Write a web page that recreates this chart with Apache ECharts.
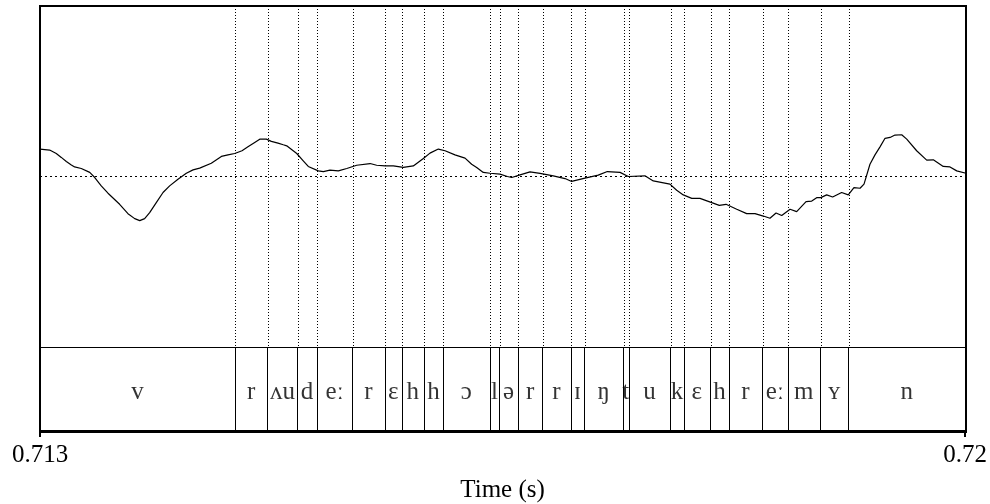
<!DOCTYPE html>
<html>
<head>
<meta charset="utf-8">
<script src="https://cdn.jsdelivr.net/npm/echarts@6/dist/echarts.min.js"></script>
<style>
  html, body { margin: 0; padding: 0; background: #fff; }
  #chart { width: 990px; height: 504px; }
</style>
</head>
<body>
<div id="chart"></div>
<script>
// Time range of the excerpt (s)
const tStart = 0.713;
const tEnd = 0.72;

// Waveform samples: time (s) and normalised amplitude
const waveTime = [
  0.713000, 0.713073, 0.713123, 0.713161, 0.713199, 0.713237, 0.713262, 0.713312, 0.713376, 0.713414,
  0.713463, 0.713514, 0.713602, 0.713665, 0.713716, 0.713754, 0.713791, 0.713829, 0.713879, 0.713930,
  0.713980, 0.714043, 0.714106, 0.714157, 0.714207, 0.714295, 0.714371, 0.714421, 0.714472, 0.714527,
  0.714572, 0.714623, 0.714661, 0.714711, 0.714749, 0.714799, 0.714839, 0.714865, 0.714941, 0.714990,
  0.715028, 0.715104, 0.715142, 0.715192, 0.715255, 0.715319, 0.715394, 0.715495, 0.715545, 0.715608,
  0.715671, 0.715746, 0.715822, 0.715898, 0.715948, 0.716011, 0.716062, 0.716137, 0.716213, 0.716263,
  0.716301, 0.716351, 0.716402, 0.716477, 0.716533, 0.716566, 0.716623, 0.716704, 0.716780, 0.716880,
  0.716969, 0.717019, 0.717120, 0.717220, 0.717289, 0.717385, 0.717447, 0.717573, 0.717636, 0.717762,
  0.717813, 0.717863, 0.717927, 0.717989, 0.718078, 0.718135, 0.718186, 0.718267, 0.718342, 0.718405,
  0.718468, 0.718518, 0.718564, 0.718607, 0.718670, 0.718720, 0.718791, 0.718834, 0.718871, 0.718902,
  0.718947, 0.718992, 0.719060, 0.719110, 0.719153, 0.719199, 0.719229, 0.719274, 0.719312, 0.719350,
  0.719388, 0.719426, 0.719463, 0.719514, 0.719552, 0.719627, 0.719703, 0.719753, 0.719828, 0.719879,
  0.719930, 0.720000
];
const waveAmp = [
  0.161, 0.155, 0.135, 0.112, 0.088, 0.068, 0.056, 0.047, 0.024, -0.006,
  -0.055, -0.098, -0.163, -0.218, -0.247, -0.259, -0.247, -0.212, -0.153, -0.094,
  -0.055, -0.016, 0.019, 0.039, 0.049, 0.078, 0.118, 0.127, 0.135, 0.151,
  0.174, 0.200, 0.219, 0.219, 0.206, 0.196, 0.186, 0.180, 0.135, 0.092,
  0.059, 0.033, 0.029, 0.037, 0.033, 0.047, 0.066, 0.076, 0.066, 0.062,
  0.062, 0.053, 0.062, 0.106, 0.137, 0.161, 0.151, 0.127, 0.108, 0.072,
  0.053, 0.024, 0.019, 0.014, 0.000, -0.006, 0.008, 0.027, 0.018, 0.004,
  -0.012, -0.029, -0.010, 0.008, 0.029, 0.024, 0.000, 0.004, -0.026, -0.045,
  -0.081, -0.108, -0.128, -0.128, -0.153, -0.169, -0.163, -0.192, -0.218, -0.218,
  -0.232, -0.245, -0.214, -0.229, -0.192, -0.206, -0.147, -0.144, -0.124, -0.124,
  -0.108, -0.120, -0.094, -0.108, -0.065, -0.069, -0.045, 0.072, 0.127, 0.174,
  0.224, 0.229, 0.243, 0.245, 0.219, 0.151, 0.096, 0.098, 0.059, 0.056,
  0.033, 0.019
];

// Segment boundaries (s) of the phone tier
const boundaries = [
  0.714474, 0.714721, 0.714948, 0.715094, 0.715364, 0.715607, 0.715737, 0.715905, 0.716050,
  0.716403, 0.716474, 0.716616, 0.716800, 0.717016, 0.717118, 0.717411, 0.717454, 0.717770,
  0.717870, 0.718070, 0.718212, 0.718463, 0.718657, 0.718902, 0.719116
];
// Phone labels, one per interval
const phones = [
  'v', 'r', 'ʌu', 'd', 'eː', 'r', 'ɛ', 'h', 'h', 'ɔ', 'l', 'ə', 'r',
  'r', 'ɪ', 'ŋ', 't', 'u', 'k', 'ɛ', 'h', 'r', 'eː', 'm', 'ʏ', 'n'
];

const serif = '"Liberation Serif", "Times New Roman", "DejaVu Serif", serif';

const edges = [tStart].concat(boundaries, [tEnd]);
const phoneData = phones.map((p, i) => ({
  name: p,
  value: [(edges[i] + edges[i + 1]) / 2, 0.465]
}));

// Vertical boundary line spanning the full height of its grid
function boundaryRenderer(dash) {
  return function (params, api) {
    const cs = params.coordSys;
    const x = Math.round(api.coord([api.value(0), api.value(1)])[0]) + 0.5;
    return {
      type: 'line',
      shape: { x1: x, y1: cs.y, x2: x, y2: cs.y + cs.height },
      style: { stroke: '#000', lineWidth: 1, lineDash: dash }
    };
  };
}

const chart = echarts.init(document.getElementById('chart'), null, { renderer: 'canvas' });

chart.setOption({
  animation: false,
  backgroundColor: '#fff',
  grid: [
    { left: 40, right: 24, top: 6, height: 341 },          // waveform
    { left: 40, right: 24, top: 347, height: 85 },         // phone tier
    { left: 40, right: 24, top: 6, height: 426,            // outer frame
      show: true, borderColor: '#000', borderWidth: 2, backgroundColor: 'transparent', z: 10 }
  ],
  xAxis: [
    {
      gridIndex: 0, type: 'value', min: tStart, max: tEnd, position: 'bottom',
      axisLine: { show: true, onZero: false, lineStyle: { color: '#000', width: 1 } },
      axisTick: { show: false }, axisLabel: { show: false }, splitLine: { show: false }
    },
    {
      gridIndex: 1, type: 'value', min: tStart, max: tEnd, position: 'bottom',
      axisLine: { show: true, onZero: false, lineStyle: { color: '#000', width: 2 } },
      axisTick: { show: true, customValues: [tStart, tEnd], length: 6, inside: false,
        lineStyle: { color: '#000', width: 2 } },
      axisLabel: { show: true, customValues: [tStart, tEnd], margin: 12,
        color: '#000', fontFamily: serif, fontSize: 25,
        formatter: v => String(+v.toFixed(4)) },
      splitLine: { show: false },
      name: 'Time (s)', nameLocation: 'middle', nameGap: 47,
      nameTextStyle: { color: '#000', fontFamily: serif, fontSize: 25 }
    },
    {
      gridIndex: 2, type: 'value', min: tStart, max: tEnd, show: false
    }
  ],
  yAxis: [
    { gridIndex: 0, type: 'value', min: -1, max: 1, show: false },
    { gridIndex: 1, type: 'value', min: 0, max: 1, show: false },
    { gridIndex: 2, type: 'value', min: 0, max: 1, show: false }
  ],
  series: [
    {
      type: 'line',
      xAxisIndex: 0, yAxisIndex: 0,
      data: waveTime.map((t, i) => [t, waveAmp[i]]),
      showSymbol: false,
      lineStyle: { color: '#000', width: 1.2 },
      silent: true,
      z: 3,
      markLine: {
        silent: true,
        symbol: 'none',
        label: { show: false },
        data: [
          { yAxis: 0, lineStyle: { color: '#000', width: 1, type: [2, 3] } }
        ]
      }
    },
    {
      // dotted boundaries across the waveform
      type: 'custom',
      xAxisIndex: 0, yAxisIndex: 0,
      data: boundaries.map(b => [b, 0]),
      renderItem: boundaryRenderer([1, 2]),
      silent: true,
      z: 2
    },
    {
      // solid boundaries inside the phone tier
      type: 'custom',
      xAxisIndex: 1, yAxisIndex: 1,
      data: boundaries.map(b => [b, 0]),
      renderItem: boundaryRenderer(null),
      silent: true,
      z: 2
    },
    {
      type: 'scatter',
      xAxisIndex: 1, yAxisIndex: 1,
      data: phoneData,
      symbolSize: 0,
      silent: true,
      label: {
        show: true, position: 'inside', formatter: '{b}',
        color: '#000', fontFamily: serif, fontSize: 25
      }
    }
  ]
});
</script>
</body>
</html>
